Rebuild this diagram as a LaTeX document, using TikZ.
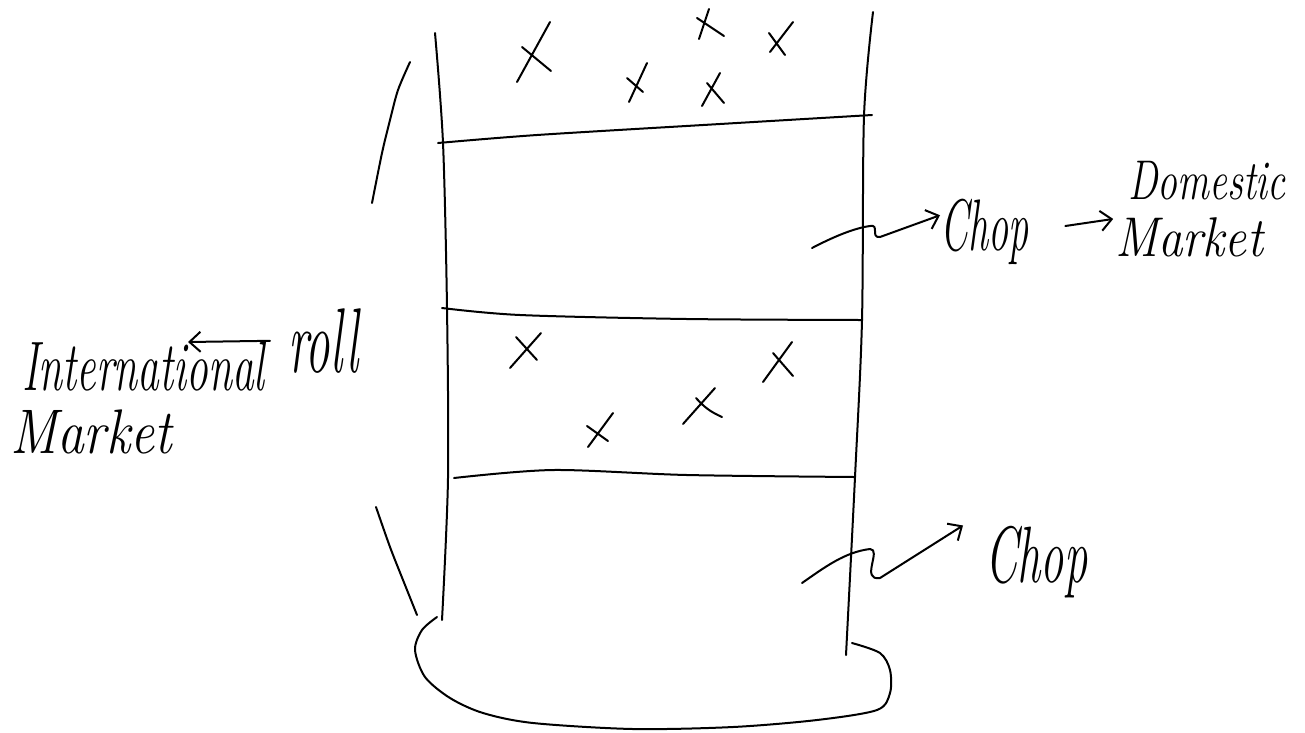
\documentclass[tikz,border=0pt]{standalone}
\usepackage{graphicx}
\usetikzlibrary{arrows.meta}
\newcommand{\sketchText}[3]{\fontsize{#1}{#1}\selectfont\itshape\scalebox{#2}[1]{#3}}

\begin{document}
\begin{tikzpicture}[x=1pt,y=-1pt,
  hand/.style={line width=2pt, line cap=round, line join=round},
  handarrow/.style={hand, -{Straight Barb[length=11pt,width=20pt]}},
  script/.style={inner sep=0pt, anchor=base west}]
\useasboundingbox (0,0) rectangle (1305,732);
\draw[hand] plot[smooth] coordinates {(435,33) (443,143) (447,308) (448,478) (442,620)};
\draw[hand] plot[smooth] coordinates {(873,12) (864,116) (862,320) (855,477) (846,655)};
\draw[hand] plot[smooth] coordinates {(438,143) (537,135) (720,124) (872,115)};
\draw[hand] plot[smooth] coordinates {(442,308) (520,315) (687,319) (862,320)};
\draw[hand] plot[smooth] coordinates {(454,478) (553,470) (687,475) (855,477)};
\draw[hand] plot[smooth] coordinates {(437,617) (422,630) (415,650) (425,677) (450,698) (483,713) (533,723) (633,729) (733,727) (817,720) (877,710) (890,693) (890,670) (880,653) (852,643)};
\draw[hand] plot[smooth] coordinates {(410,62) (398,90) (390,120) (382,153) (372,203)};
\draw[hand] plot[smooth] coordinates {(376,507) (390,547) (403,580) (417,615)};
\draw[hand] (517,82) -- (550,22) (522,47) -- (551,71);
\draw[hand] (699,39) -- (709,9) (697,18) -- (724,36);
\draw[hand] (770,52) -- (793,22) (769,33) -- (785,55);
\draw[hand] (629,102) -- (647,63) (627,78) -- (643,92);
\draw[hand] (702,106) -- (720,73) (707,83) -- (724,103);
\draw[hand] (510,368) -- (541,333) (516,337) -- (537,360);
\draw[hand] (588,447) -- (613,413) (587,426) -- (608,441);
\draw[hand] (683,424) -- (715,388) (696,398) to[bend right=12] (722,417);
\draw[hand] (763,382) -- (792,342) (773,353) -- (793,376);
\node[script] (intl) at (22,390) {\sketchText{70}{0.62}{International}};
\node[script] (intlMkt) at (10,453) {\sketchText{63}{0.85}{Market}};
\node[script] (roll) at (288,372) {\sketchText{92}{0.53}{roll}};
\node[script] (chopA) at (940,250) {\sketchText{73}{0.55}{Chop}};
\node[script] (dom) at (1128,199) {\sketchText{56}{0.71}{Domestic}};
\node[script] (domMkt) at (1115,256) {\sketchText{56}{0.875}{Market}};
\node[script] (chopB) at (985,582) {\sketchText{80}{0.58}{Chop}};
\coordinate (intlTip) at (188,342);
\coordinate (bandTwo) at (812,248);
\coordinate (bandFour) at (802,583);
\draw[handarrow, shorten <=18pt] (roll.west) -- (intlTip);
\draw[handarrow] (bandTwo) .. controls (835,236) and (855,228) .. (870,226) .. controls (880,224) and (870,238) .. (880,237) -- (chopA.160);
\draw[handarrow, shorten <=37pt, shorten >=15pt] (chopA.east) -- ([yshift=-17pt]dom.south west);
\draw[handarrow] (bandFour) .. controls (825,567) and (845,552) .. (870,549) .. controls (882,549) and (860,581) .. (880,578) -- ([xshift=-22pt]chopB.north west);
\end{tikzpicture}
\end{document}
